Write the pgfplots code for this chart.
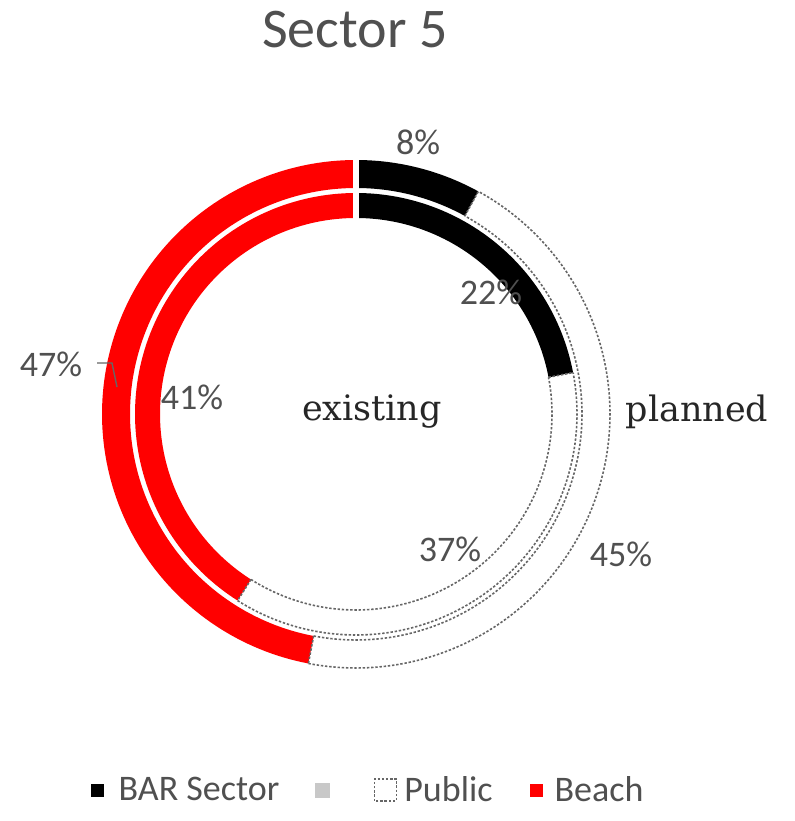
\documentclass[border=0pt]{standalone}
\usepackage{pgfplots}
\pgfplotsset{compat=1.18}
\usepackage{fontspec}
\setmainfont{Carlito}
\newfontfamily\slab{DejaVu Serif}
\definecolor{txt}{HTML}{505050}
\definecolor{beach}{HTML}{FF0000}
\definecolor{dotc}{HTML}{666666}
\definecolor{lgray}{HTML}{C8C8C8}
\begin{document}
\begin{tikzpicture}
% data in percent
\def\PlBar{8}\def\PlPub{45}\def\PlBeach{47}
\def\ExBar{22}\def\ExPub{37}\def\ExBeach{41}
\pgfmathsetmacro\pA{90-3.6*\PlBar}
\pgfmathsetmacro\pB{\pA-3.6*\PlPub}
\pgfmathsetmacro\pC{\pB-3.6*\PlBeach}
\pgfmathsetmacro\eA{90-3.6*\ExBar}
\pgfmathsetmacro\eB{\eA-3.6*\ExPub}
\pgfmathsetmacro\eC{\eB-3.6*\ExBeach}
\tikzset{dots/.style={dotc, line width=1.6bp, dash pattern=on 2.4bp off 1.8bp}}
\begin{axis}[x=1bp, y=1bp, xmin=-356, xmax=439, ymin=-407, ymax=414,
  hide axis, clip=false,
  legend columns=4,
  legend style={draw=none, fill=none, at={(0.4616,0.0378)}, anchor=center,
    font=\fontsize{36bp}{40bp}\selectfont\color{txt},
    column sep=0pt, nodes={inner sep=0pt}},
  legend cell align=left]
% invisible frame
\addplot[draw=none, forget plot] coordinates {(-356,-407) (439,414)};
% outer ring (planned)
\addplot[black, line width=28bp, domain=\pA:90, samples=40, variable=\t, forget plot] ({240*cos(\t)},{240*sin(\t)});
\addplot[beach, line width=28bp, domain=\pC:\pB, samples=120, variable=\t, forget plot] ({240*cos(\t)},{240*sin(\t)});
\addplot[dots, domain=\pB:\pA, samples=120, variable=\t, forget plot] ({226*cos(\t)},{226*sin(\t)});
\addplot[dots, domain=\pB:\pA, samples=120, variable=\t, forget plot] ({254*cos(\t)},{254*sin(\t)});
\addplot[dots, domain=226:254, samples=2, variable=\r, forget plot] ({\r*cos(\pA)},{\r*sin(\pA)});
\addplot[dots, domain=226:254, samples=2, variable=\r, forget plot] ({\r*cos(\pB)},{\r*sin(\pB)});
% inner ring (existing)
\addplot[black, line width=25bp, domain=\eA:90, samples=60, variable=\t, forget plot] ({208.5*cos(\t)},{208.5*sin(\t)});
\addplot[beach, line width=25bp, domain=\eC:\eB, samples=100, variable=\t, forget plot] ({208.5*cos(\t)},{208.5*sin(\t)});
\addplot[dots, domain=\eB:\eA, samples=100, variable=\t, forget plot] ({196*cos(\t)},{196*sin(\t)});
\addplot[dots, domain=\eB:\eA, samples=100, variable=\t, forget plot] ({221*cos(\t)},{221*sin(\t)});
\addplot[dots, domain=196:221, samples=2, variable=\r, forget plot] ({\r*cos(\eA)},{\r*sin(\eA)});
\addplot[dots, domain=196:221, samples=2, variable=\r, forget plot] ({\r*cos(\eB)},{\r*sin(\eB)});
% separator at top
\addplot[white, line width=6bp, domain=188:262, samples=2, variable=\r, forget plot] ({\r*cos(90)},{\r*sin(90)});
% leader line
\addplot[dotc, line width=1.4bp, forget plot] coordinates {(-259,51) (-244,51) (-239,27)};
% labels
\begin{scope}[every node/.style={font=\fontsize{36bp}{40bp}\selectfont, text=txt, inner sep=0pt}]
\node at (axis cs:62,272) {8\%};
\node at (axis cs:135,122) {22\%};
\node at (axis cs:-305,50) {47\%};
\node at (axis cs:-164,17) {41\%};
\node at (axis cs:94,-135) {37\%};
\node at (axis cs:265,-140) {45\%};
\end{scope}
\node[font=\slab\fontsize{35bp}{40bp}\selectfont, text=black!85, inner sep=0pt] at (axis cs:16,2) {existing};
\node[font=\slab\fontsize{35bp}{40bp}\selectfont, text=black!85, inner sep=0pt] at (axis cs:341,2) {planned};
\node[font=\fontsize{56bp}{60bp}\selectfont, text=txt, inner sep=0pt] at (axis cs:-1,384) {Sector 5};
% legend
\addlegendimage{legend image code/.code={\fill[black] (0bp,-6bp) rectangle (12bp,6bp); \path[draw=none,fill=none] (0bp,0bp) rectangle (28bp,0.1bp);}}
\addlegendentry{BAR Sector}
\addlegendimage{legend image code/.code={\fill[lgray] (36bp,-7bp) rectangle (50bp,7bp); \path[draw=none,fill=none] (0bp,0bp) rectangle (52bp,0.1bp);}}
\addlegendentry{\mbox{}}
\addlegendimage{legend image code/.code={\draw[dots] (42bp,-11bp) rectangle (64bp,11bp); \path[draw=none,fill=none] (0bp,0bp) rectangle (72bp,0.1bp);}}
\addlegendentry{Public}
\addlegendimage{legend image code/.code={\fill[beach] (38bp,-6bp) rectangle (50bp,6bp); \path[draw=none,fill=none] (0bp,0bp) rectangle (62bp,0.1bp);}}
\addlegendentry{Beach}
\end{axis}
\end{tikzpicture}
\end{document}
